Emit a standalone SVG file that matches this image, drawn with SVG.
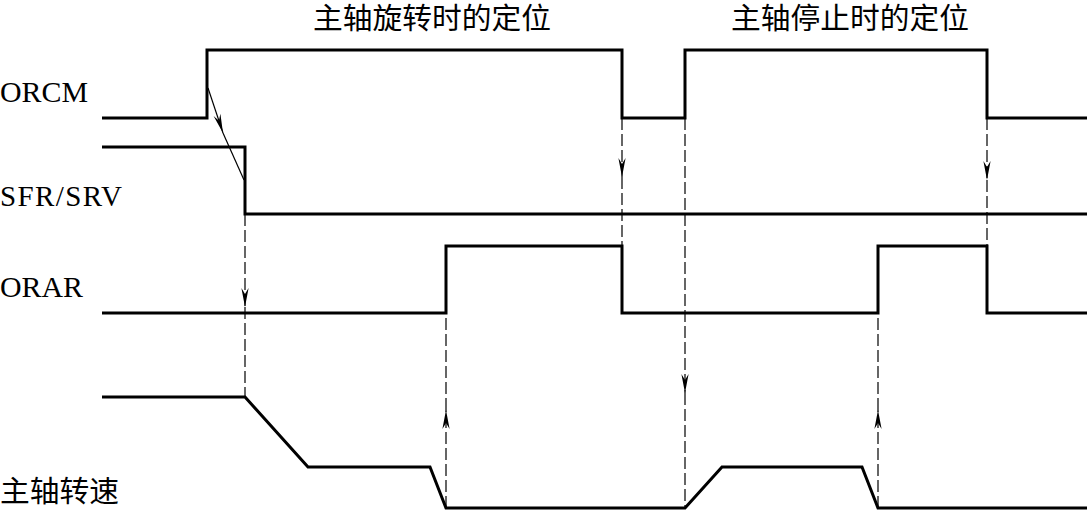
<svg xmlns="http://www.w3.org/2000/svg" width="1087" height="510" viewBox="0 0 1087 510">
<style>
.sig{fill:none;stroke:#000;stroke-width:3;stroke-linejoin:miter}
.dash{fill:none;stroke:#000;stroke-width:1.2;stroke-dasharray:12 4}
.thin{fill:none;stroke:#000;stroke-width:1.2}
.lbl{font-family:"Liberation Serif","Times New Roman",serif;font-size:29px;fill:#000}
.cjk{font-family:"Noto Sans CJK SC","Liberation Serif",serif;font-size:29px;fill:#000}
</style>
<defs>
<marker id="ah" markerUnits="userSpaceOnUse" viewBox="-19 -4 20 8" refX="0" refY="0" markerWidth="20" markerHeight="8" orient="auto" overflow="visible">
<path d="M0,0 L-19,-3.6 L-13,0 L-19,3.6 Z" fill="#000"/>
</marker>
</defs>
<rect width="1087" height="510" fill="#fff"/>
<g id="titles">
<text class="cjk" x="432" y="29" text-anchor="middle" textLength="238" lengthAdjust="spacingAndGlyphs">主轴旋转时的定位</text>
<text class="cjk" x="850" y="29" text-anchor="middle" textLength="238" lengthAdjust="spacingAndGlyphs">主轴停止时的定位</text>
</g>
<g id="orcm">
<text class="lbl" x="0" y="102" textLength="88" lengthAdjust="spacingAndGlyphs">ORCM</text>
<polyline class="sig" points="102,118 207,118 207,50 622,50 622,118 685,118 685,50 987,50 987,118 1087,118"/>
</g>
<g id="sfr">
<text class="lbl" x="0" y="206" textLength="122" lengthAdjust="spacing">SFR/SRV</text>
<polyline class="sig" points="102,147 245,147 245,214 1087,214"/>
</g>
<g id="orar">
<text class="lbl" x="0" y="297" textLength="83" lengthAdjust="spacingAndGlyphs">ORAR</text>
<polyline class="sig" points="102,313 446,313 446,246 622,246 622,313 878,313 878,246 987,246 987,313 1087,313"/>
</g>
<g id="speed">
<text class="cjk" x="0" y="502" textLength="119" lengthAdjust="spacingAndGlyphs">主轴转速</text>
<polyline class="sig" points="102,397 245,397 308,467 430,467 446,508 685,508 722,467 862,467 878,508 1087,508"/>
</g>
<g id="connectors">
<line class="thin" x1="208" y1="88" x2="223" y2="133" marker-end="url(#ah)"/>
<line class="thin" x1="223" y1="133" x2="244" y2="180"/>
<line class="dash" x1="245" y1="214" x2="245" y2="307" marker-end="url(#ah)"/>
<line class="dash" x1="245" y1="307" x2="245" y2="397"/>
<line class="dash" x1="446" y1="508" x2="446" y2="410" marker-end="url(#ah)"/>
<line class="dash" x1="446" y1="410" x2="446" y2="313"/>
<line class="dash" x1="622" y1="118" x2="622" y2="177" marker-end="url(#ah)"/>
<line class="dash" x1="622" y1="177" x2="622" y2="313"/>
<line class="dash" x1="685" y1="118" x2="685" y2="393" marker-end="url(#ah)"/>
<line class="dash" x1="685" y1="393" x2="685" y2="508"/>
<line class="dash" x1="878" y1="508" x2="878" y2="410" marker-end="url(#ah)"/>
<line class="dash" x1="878" y1="410" x2="878" y2="313"/>
<line class="dash" x1="987" y1="118" x2="987" y2="180" marker-end="url(#ah)"/>
<line class="dash" x1="987" y1="180" x2="987" y2="313"/>
</g>
</svg>
